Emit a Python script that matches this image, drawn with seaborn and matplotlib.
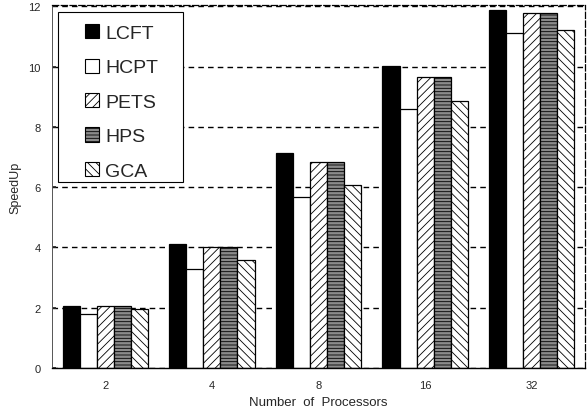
import matplotlib
matplotlib.use("Agg")
import matplotlib.pyplot as plt
import seaborn as sns
import pandas as pd
from matplotlib.patches import Patch, Rectangle

processors = ["2", "4", "8", "16", "32"]
methods = ["LCFT", "HCPT", "PETS", "HPS", "GCA"]
lcft = [2.07, 4.13, 7.13, 10.03, 11.87]
hcpt = [1.80, 3.30, 5.67, 8.60, 11.13]
pets = [2.05, 4.03, 6.83, 9.67, 11.77]
hps = [2.05, 4.03, 6.83, 9.67, 11.77]
gca = [1.97, 3.60, 6.07, 8.87, 11.23]
yticks = [0, 2, 4, 6, 8, 10, 12]

series = {"LCFT": lcft, "HCPT": hcpt, "PETS": pets, "HPS": hps, "GCA": gca}
df = pd.DataFrame(
    [(p, m, series[m][i]) for m in methods for i, p in enumerate(processors)],
    columns=["procs", "method", "speedup"],
)

sns.set_theme(style="white")
plt.rcParams["font.family"] = ["Liberation Sans", "DejaVu Sans"]
plt.rcParams["hatch.linewidth"] = 0.6

styles = {
    "LCFT": dict(face="black", hatch=None),
    "HCPT": dict(face="white", hatch=None),
    "PETS": dict(face="white", hatch="////"),
    "HPS": dict(face="#8a8a8a", hatch="-----"),
    "GCA": dict(face="white", hatch="\\\\\\\\"),
}

fig = plt.figure(figsize=(5.87, 4.14), dpi=100)
ax = fig.add_axes([0.0886, 0.1087, 0.908, 0.877])

sns.barplot(data=df, x="procs", y="speedup", hue="method", order=processors,
            hue_order=methods, palette=["white"] * 5, width=0.8,
            edgecolor="black", linewidth=0.9, legend=False, ax=ax)

for cont, m in zip(ax.containers, methods):
    for bar in cont:
        bar.set_facecolor(styles[m]["face"])
        bar.set_edgecolor("black")
        if styles[m]["hatch"]:
            bar.set_hatch(styles[m]["hatch"])

ax.set_ylim(0, 12.05)
ax.set_xlim(-0.5, 4.5)
ax.set_yticks(yticks)
ax.set_yticklabels([str(t) for t in yticks], fontsize=8)
ax.tick_params(axis="x", labelsize=8, length=0, pad=9)
ax.tick_params(axis="y", length=3, direction="in", left=True, pad=8)
ax.yaxis.grid(True, linestyle=(0, (4, 3)), color="black", linewidth=1.0)
ax.set_axisbelow(True)

for side in ["top", "right"]:
    ax.spines[side].set_linestyle((0, (5, 2)))
    ax.spines[side].set_linewidth(0.9)
    ax.spines[side].set_color("black")
ax.spines["left"].set_linestyle((0, (2, 1)))
ax.spines["left"].set_linewidth(0.7)
ax.spines["left"].set_color("#555555")
ax.spines["bottom"].set_color("black")
ax.spines["bottom"].set_linewidth(1.0)

ax.set_xlabel("Number  of  Processors", fontsize=9.5, labelpad=4)
ax.set_ylabel("SpeedUp", fontsize=9, labelpad=5)

# legend box drawn separately so its padding can be set freely
ax.add_patch(Rectangle((0.011, 0.512), 0.235, 0.469, transform=ax.transAxes,
                       facecolor="white", edgecolor="black", linewidth=0.8,
                       zorder=4))
handles = [Patch(facecolor=styles[m]["face"], edgecolor="black",
                 hatch=styles[m]["hatch"], linewidth=0.8) for m in methods]
leg = ax.legend(handles, methods, loc="upper left", bbox_to_anchor=(0.062, 0.947),
                fontsize=14, frameon=False, handlelength=0.7,
                handleheight=0.75, handletextpad=0.35, labelspacing=0.85,
                borderpad=0, borderaxespad=0)
leg.set_zorder(5)

fig.savefig("out.png", dpi=100)
